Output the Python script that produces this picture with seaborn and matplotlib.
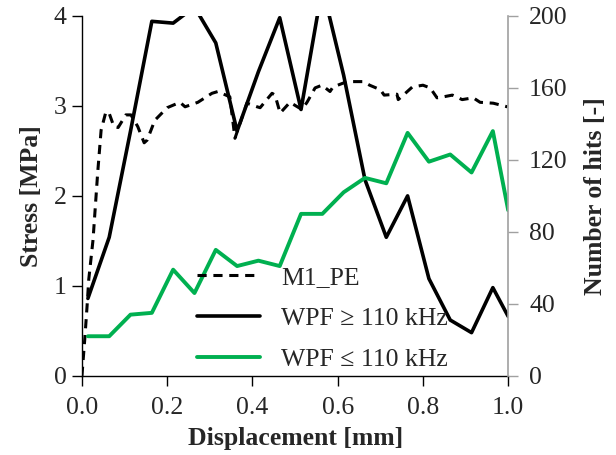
import matplotlib
matplotlib.use("Agg")
import matplotlib.pyplot as plt
import seaborn as sns
import pandas as pd
from matplotlib.ticker import FormatStrFormatter

# ---- data ----
stress_x = [0.0, 0.007, 0.012, 0.016, 0.026, 0.037, 0.045, 0.056, 0.063, 0.075, 0.085,
            0.103, 0.115, 0.131, 0.146, 0.153, 0.171, 0.200, 0.230, 0.242, 0.272,
            0.305, 0.319, 0.347, 0.359, 0.387, 0.411, 0.418, 0.446, 0.453, 0.465,
            0.488, 0.516, 0.528, 0.547, 0.563, 0.582, 0.589, 0.622, 0.660, 0.675,
            0.700, 0.709, 0.739, 0.742, 0.754, 0.775, 0.800, 0.817, 0.833, 0.847,
            0.869, 0.892, 0.918, 0.934, 0.965, 0.998]
stress_y = [0.0, 0.43, 0.77, 1.07, 1.51, 2.26, 2.73, 2.93, 2.93, 2.77, 2.76,
            2.90, 2.90, 2.77, 2.59, 2.62, 2.84, 2.98, 3.04, 2.99, 3.04,
            3.14, 3.16, 3.10, 2.64, 3.03, 2.99, 2.98, 3.14, 3.12, 2.92,
            3.04, 2.96, 3.04, 3.20, 3.23, 3.16, 3.21, 3.27, 3.27, 3.23,
            3.18, 3.12, 3.13, 3.07, 3.12, 3.21, 3.23, 3.20, 3.09, 3.10,
            3.12, 3.07, 3.09, 3.04, 3.03, 2.99]

hits_x = [0.014, 0.064, 0.114, 0.164, 0.214, 0.264, 0.314, 0.364, 0.414, 0.464,
          0.514, 0.564, 0.614, 0.664, 0.714, 0.764, 0.814, 0.864, 0.914, 0.964, 1.0]
hits_high = [43, 77, 136, 197, 196, 205, 185, 136, 169, 199,
             148, 216, 167, 109, 77, 100, 54, 31, 24, 49, 33]
hits_low = [22, 22, 34, 35, 59, 46, 70, 61, 64, 61,
            90, 90, 102, 110, 107, 135, 119, 123, 113, 136, 92]

labels = ["M1_PE", "WPF \u2265 110 kHz", "WPF \u2264 110 kHz"]
x_ticks = [0.0, 0.2, 0.4, 0.6, 0.8, 1.0]
stress_ticks = [0, 1, 2, 3, 4]
hits_ticks = [0, 40, 80, 120, 160, 200]

# ---- style ----
sns.set_style("white")
plt.rcParams['font.family'] = ['Liberation Serif', 'DejaVu Serif']
FS = 18.5

df_s = pd.DataFrame({"x": stress_x, "y": stress_y})
df_h = pd.DataFrame({"x": hits_x, "high": hits_high, "low": hits_low})

fig = plt.figure(figsize=(6.16, 4.55), dpi=100)
ax = fig.add_axes([0.133, 0.174, 0.692, 0.791])
ax2 = ax.twinx()

sns.lineplot(data=df_s, x="x", y="y", ax=ax, color="black", lw=2.2,
             sort=False, estimator=None, label=labels[0], legend=False)
ax.lines[0].set_dashes([3, 2.2])

sns.lineplot(data=df_h, x="x", y="high", ax=ax2, color="black", lw=2.6,
             sort=False, estimator=None, label=labels[1], legend=False)
sns.lineplot(data=df_h, x="x", y="low", ax=ax2, color="#00B050", lw=2.8,
             sort=False, estimator=None, label=labels[2], legend=False)

ax.set_xlim(0, 1.0)
ax.set_ylim(0, 4)
ax2.set_ylim(0, 200)
ax.set_xticks(x_ticks)
ax.set_yticks(stress_ticks)
ax2.set_yticks(hits_ticks)
ax.xaxis.set_major_formatter(FormatStrFormatter('%.1f'))

for a in (ax, ax2):
    a.spines['top'].set_visible(False)
    a.grid(False)
ax.spines['left'].set_color('black')
ax.spines['bottom'].set_color('black')
ax.spines['right'].set_visible(False)
ax2.spines['left'].set_visible(False)
ax2.spines['bottom'].set_visible(False)
ax2.spines['right'].set_color('#a0a0a0')
ax2.spines['right'].set_linewidth(1.2)
ax.spines['left'].set_linewidth(1.0)
ax.spines['bottom'].set_linewidth(1.0)

ax.tick_params(axis='x', which='major', labelsize=FS, direction='out',
               length=7, width=1, color='black', bottom=True, pad=8)
ax.tick_params(axis='y', which='major', labelsize=FS, direction='out',
               length=7, width=1, color='black', left=True, pad=4)
ax2.tick_params(axis='y', labelsize=FS, direction='out', length=7, width=1,
                color='#a0a0a0', right=True, pad=8)

ax.set_xlabel("Displacement [mm]", fontsize=FS, fontweight='bold', labelpad=6)
ax.set_ylabel("Stress [MPa]", fontsize=FS, fontweight='bold', labelpad=8)
ax2.set_ylabel("Number of hits [-]", fontsize=FS, fontweight='bold', labelpad=12)

handles = ax.lines[:1] + ax2.lines[:2]
leg = ax2.legend(handles, labels, loc='upper left', bbox_to_anchor=(0.247, 0.334),
                 frameon=False, fontsize=FS, handlelength=2.45, handletextpad=0.8,
                 labelspacing=0.7, borderaxespad=0)

fig.savefig("out.png", dpi=100)
